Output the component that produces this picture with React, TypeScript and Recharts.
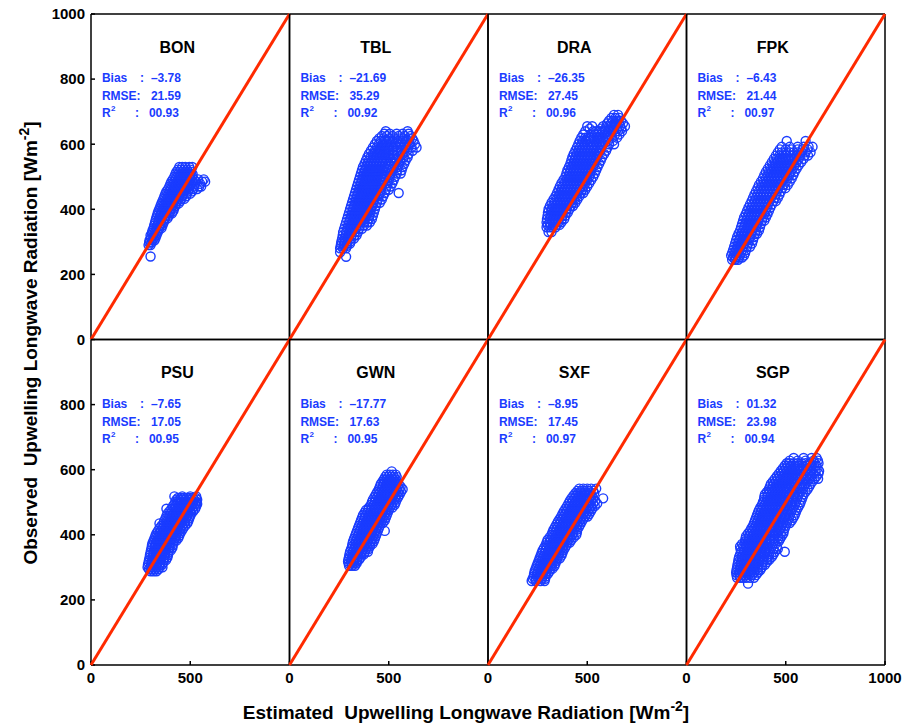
import React from "react";
import { ScatterChart, Scatter, XAxis, YAxis, ReferenceDot } from "recharts";

// each row: [observed, [estimated values read along that level]]
type Row = [number, number[]];

const STATIONS = ["BON", "TBL", "DRA", "FPK", "PSU", "GWN", "SXF", "SGP"];
const BIAS = ["–3.78", "–21.69", "–26.35", "–6.43", "–7.65", "–17.77", "–8.95", "01.32"];
const RMSE = ["21.59", "35.29", "27.45", "21.44", "17.05", "17.63", "17.45", "23.98"];
const R2 = ["00.93", "00.92", "00.96", "00.97", "00.95", "00.95", "00.97", "00.94"];

// 1:1 line
const DIAGONAL = [
  { x: 0, y: 0 },
  { x: 1000, y: 1000 },
];

const BON: Row[] = [
  [255, [300]],
  [290, [290, 300]],
  [298, [293, 305]],
  [305, [295, 310, 320]],
  [312, [302, 315, 325]],
  [320, [300, 315, 330]],
  [328, [307, 320, 335]],
  [335, [310, 325, 340]],
  [342, [315, 330, 345, 355]],
  [350, [318, 333, 348, 360]],
  [358, [322, 337, 352, 365]],
  [365, [325, 340, 355, 370]],
  [372, [328, 343, 358, 373, 385]],
  [380, [332, 347, 362, 378, 392]],
  [388, [336, 351, 366, 381, 396, 408]],
  [395, [340, 355, 370, 385, 400, 415]],
  [402, [345, 360, 375, 390, 405, 418]],
  [410, [350, 365, 380, 395, 410, 425]],
  [418, [355, 370, 385, 400, 415, 430, 442]],
  [425, [360, 375, 390, 405, 420, 435, 450]],
  [432, [365, 380, 395, 410, 425, 440, 455, 470]],
  [440, [370, 385, 400, 415, 430, 445, 460, 480]],
  [448, [375, 390, 405, 420, 435, 450, 465, 482, 500]],
  [455, [380, 395, 410, 425, 440, 455, 470, 490, 510]],
  [462, [388, 403, 418, 433, 448, 463, 478, 495, 515, 535]],
  [470, [395, 410, 425, 440, 455, 470, 485, 500, 520, 545, 555]],
  [478, [400, 415, 430, 445, 460, 475, 490, 505, 525, 550]],
  [485, [405, 420, 435, 450, 465, 480, 495, 510, 530, 560, 575]],
  [492, [412, 427, 442, 457, 472, 487, 502, 518, 540, 568]],
  [500, [420, 435, 450, 465, 480, 495, 510]],
  [508, [425, 440, 455, 470, 485, 500, 512]],
  [515, [430, 445, 460, 475, 490, 505]],
  [522, [438, 453, 468, 483, 500]],
  [530, [445, 460, 475, 495, 510]],
];

const TBL: Row[] = [
  [254, [285]],
  [268, [255]],
  [280, [255, 270, 285]],
  [288, [258, 273, 290]],
  [295, [260, 275, 290, 305]],
  [302, [262, 277, 292, 308]],
  [310, [265, 280, 295, 310, 325]],
  [320, [268, 283, 298, 313, 328, 338]],
  [330, [270, 285, 300, 315, 330, 345]],
  [340, [275, 290, 305, 320, 335, 350, 365]],
  [350, [280, 295, 310, 325, 340, 355, 375, 390]],
  [360, [285, 300, 315, 330, 345, 360, 375, 392, 405]],
  [370, [290, 305, 320, 335, 350, 365, 380, 400, 415]],
  [380, [295, 310, 325, 340, 355, 370, 385, 402, 420]],
  [390, [300, 315, 330, 345, 360, 375, 390, 405, 425]],
  [400, [305, 320, 335, 350, 365, 380, 395, 410, 430]],
  [410, [310, 325, 340, 355, 370, 385, 400, 415, 435]],
  [420, [315, 330, 345, 360, 375, 390, 405, 420, 440, 455]],
  [430, [320, 335, 350, 365, 380, 395, 410, 425, 445, 465]],
  [440, [325, 340, 355, 370, 385, 400, 415, 430, 450, 472]],
  [450, [330, 345, 360, 375, 390, 405, 420, 435, 455, 480, 550]],
  [460, [335, 350, 365, 380, 395, 410, 425, 440, 460, 485, 500]],
  [470, [340, 355, 370, 385, 400, 415, 430, 445, 465, 490, 510]],
  [480, [345, 360, 375, 390, 405, 420, 435, 450, 470, 495, 518]],
  [490, [350, 365, 380, 395, 410, 425, 440, 455, 475, 500, 525]],
  [500, [355, 370, 385, 400, 415, 430, 445, 460, 480, 505, 532]],
  [510, [360, 375, 390, 405, 420, 435, 450, 465, 485, 510, 540, 560]],
  [520, [365, 380, 395, 410, 425, 440, 455, 470, 490, 515, 542, 565]],
  [530, [370, 385, 400, 415, 430, 445, 460, 475, 495, 520, 545, 570]],
  [540, [378, 393, 408, 423, 438, 453, 468, 483, 502, 528, 552, 578]],
  [550, [385, 400, 415, 430, 445, 460, 475, 490, 510, 535, 560, 585]],
  [560, [392, 408, 423, 438, 453, 468, 483, 500, 522, 548, 575, 595]],
  [570, [400, 420, 440, 455, 470, 485, 500, 520, 545, 570, 600]],
  [580, [410, 430, 450, 468, 485, 502, 520, 540, 565, 592, 620]],
  [590, [420, 440, 460, 480, 500, 520, 540, 560, 585, 615, 640]],
  [600, [430, 450, 470, 490, 510, 532, 555, 580, 605, 632]],
  [610, [440, 460, 480, 500, 520, 545, 570, 600, 625]],
  [618, [452, 475, 500, 525, 550, 575, 600, 618]],
  [625, [465, 490, 520, 550, 580, 610]],
  [632, [478, 505, 540, 570, 600]],
  [640, [485, 595]],
];

const DRA: Row[] = [
  [330, [305, 320]],
  [345, [295, 310, 325, 340]],
  [352, [300, 315, 330, 345, 360]],
  [360, [295, 310, 325, 340, 355, 370]],
  [370, [297, 312, 327, 342, 357, 372, 384]],
  [380, [300, 315, 330, 345, 360, 375, 390]],
  [390, [302, 317, 332, 347, 362, 377, 392, 402]],
  [400, [305, 320, 335, 350, 365, 380, 395, 410]],
  [410, [312, 327, 342, 357, 372, 387, 402, 417, 428]],
  [420, [320, 335, 350, 365, 380, 395, 410, 425, 440]],
  [430, [330, 345, 360, 375, 390, 405, 420, 435, 450]],
  [440, [340, 355, 370, 385, 400, 415, 430, 445, 460]],
  [450, [348, 363, 378, 393, 408, 423, 438, 453, 468, 480]],
  [460, [355, 370, 385, 400, 415, 430, 445, 460, 475, 490]],
  [470, [362, 377, 392, 407, 422, 437, 452, 467, 482, 500]],
  [480, [370, 385, 400, 415, 430, 445, 460, 475, 490, 510]],
  [490, [380, 395, 410, 425, 440, 455, 470, 485, 500, 520]],
  [500, [390, 405, 420, 435, 450, 465, 480, 495, 510, 530]],
  [510, [395, 410, 425, 440, 455, 470, 485, 500, 515, 538]],
  [520, [400, 415, 430, 445, 460, 475, 490, 505, 520, 545]],
  [530, [408, 423, 438, 453, 468, 483, 498, 513, 528, 552]],
  [540, [415, 430, 445, 460, 475, 490, 505, 520, 535, 560]],
  [550, [420, 435, 450, 465, 480, 495, 510, 525, 542, 568]],
  [560, [425, 440, 455, 470, 485, 500, 515, 530, 550, 575]],
  [570, [432, 447, 462, 477, 492, 507, 522, 537, 557, 585]],
  [580, [440, 455, 470, 485, 500, 515, 530, 545, 565, 595]],
  [590, [448, 463, 478, 493, 508, 523, 538, 553, 572, 602]],
  [600, [455, 470, 485, 500, 515, 530, 545, 560, 580, 610, 635]],
  [610, [462, 478, 495, 515, 535, 552, 568, 585, 605, 630]],
  [620, [470, 490, 510, 530, 550, 565, 580, 600, 625, 650]],
  [630, [480, 520, 538, 553, 568, 583, 598, 618, 640, 662]],
  [640, [490, 530, 545, 560, 575, 590, 610, 630, 655, 675]],
  [648, [512, 570, 590, 610, 630, 650, 672]],
  [655, [500, 525, 580, 600, 620, 640, 665, 690]],
  [664, [600, 620, 640, 660, 680]],
  [672, [610, 630, 650, 670]],
  [681, [622, 642, 662]],
  [690, [635, 655]],
];

const FPK: Row[] = [
  [245, [230, 245, 260]],
  [252, [235, 250, 265, 280]],
  [258, [225, 240, 255, 270, 290]],
  [266, [230, 245, 260, 275, 295]],
  [275, [235, 250, 265, 280, 300]],
  [285, [240, 255, 270, 285, 305, 320]],
  [295, [245, 260, 275, 290, 310, 330]],
  [305, [250, 265, 280, 295, 315, 335]],
  [315, [255, 270, 285, 300, 320, 340]],
  [325, [262, 277, 292, 307, 325, 345, 355]],
  [335, [270, 285, 300, 315, 330, 350, 365]],
  [345, [275, 290, 305, 320, 335, 352, 370]],
  [355, [280, 295, 310, 325, 340, 355, 375]],
  [365, [285, 300, 315, 330, 345, 360, 380, 392]],
  [375, [290, 305, 320, 335, 350, 365, 385, 400]],
  [385, [298, 313, 328, 343, 358, 373, 392, 408]],
  [395, [305, 320, 335, 350, 365, 380, 400, 415]],
  [405, [312, 327, 342, 357, 372, 388, 405, 422]],
  [415, [320, 335, 350, 365, 380, 395, 410, 430]],
  [425, [328, 343, 358, 373, 388, 403, 418, 438, 450]],
  [435, [335, 350, 365, 380, 395, 410, 425, 445, 460]],
  [445, [342, 357, 372, 387, 402, 417, 432, 450, 468]],
  [455, [350, 365, 380, 395, 410, 425, 440, 455, 475]],
  [465, [358, 373, 388, 403, 418, 433, 448, 463, 482, 498]],
  [475, [365, 380, 395, 410, 425, 440, 455, 470, 490, 510]],
  [485, [375, 390, 405, 420, 435, 450, 465, 480, 500, 520]],
  [495, [385, 400, 415, 430, 445, 460, 475, 490, 510, 530]],
  [505, [392, 407, 422, 437, 452, 467, 482, 497, 518, 538]],
  [515, [400, 415, 430, 445, 460, 475, 490, 505, 525, 545]],
  [525, [410, 425, 440, 455, 470, 485, 500, 515, 535, 555]],
  [535, [420, 435, 450, 465, 480, 495, 510, 525, 545, 565]],
  [545, [430, 445, 460, 475, 490, 505, 520, 535, 555, 578]],
  [555, [440, 455, 470, 485, 500, 515, 530, 545, 565, 590]],
  [565, [450, 468, 485, 502, 520, 538, 555, 572, 595, 612]],
  [575, [460, 480, 500, 520, 540, 560, 580, 600, 625]],
  [584, [470, 500, 530, 560, 585, 610]],
  [592, [480, 520, 560, 590, 615, 635]],
  [610, [505, 600]],
];

const PSU: Row[] = [
  [288, [300, 315, 330]],
  [294, [292, 307, 322, 340]],
  [300, [285, 300, 315, 330, 345, 360]],
  [308, [287, 302, 317, 332, 347, 358]],
  [315, [290, 305, 320, 335, 350, 365]],
  [322, [292, 307, 322, 337, 352, 367, 378]],
  [330, [295, 310, 325, 340, 355, 370, 385]],
  [338, [297, 312, 327, 342, 357, 372, 388]],
  [345, [300, 315, 330, 345, 360, 375, 390]],
  [352, [302, 317, 332, 347, 362, 377, 392, 402]],
  [360, [305, 320, 335, 350, 365, 380, 395, 410]],
  [368, [307, 322, 337, 352, 367, 382, 397, 412]],
  [375, [310, 325, 340, 355, 370, 385, 400, 415]],
  [382, [315, 330, 345, 360, 375, 390, 405, 420, 430]],
  [390, [320, 335, 350, 365, 380, 395, 410, 425, 440]],
  [398, [325, 340, 355, 370, 385, 400, 415, 430, 445]],
  [405, [330, 345, 360, 375, 390, 405, 420, 435, 450]],
  [412, [337, 352, 367, 382, 397, 412, 427, 442, 457]],
  [420, [345, 360, 375, 390, 405, 420, 435, 450, 465]],
  [428, [355, 370, 385, 400, 415, 430, 445, 460, 475]],
  [435, [345, 365, 380, 395, 410, 425, 440, 455, 470, 485]],
  [442, [368, 383, 398, 413, 428, 443, 458, 473, 490]],
  [450, [375, 390, 405, 420, 435, 450, 465, 480, 495]],
  [458, [380, 395, 410, 425, 440, 455, 470, 485, 500]],
  [465, [385, 400, 415, 430, 445, 460, 475, 490, 505]],
  [472, [395, 410, 425, 440, 455, 470, 485, 500, 515]],
  [480, [380, 405, 420, 435, 450, 465, 480, 495, 510, 525]],
  [488, [412, 427, 442, 457, 472, 487, 502, 517, 530]],
  [495, [420, 435, 450, 465, 480, 495, 510, 525, 535]],
  [502, [425, 440, 455, 470, 485, 500, 515, 530]],
  [508, [430, 445, 460, 475, 490, 505, 520, 535]],
  [513, [438, 453, 468, 483, 498, 513, 528]],
  [518, [420, 460, 500, 530]],
];

const GWN: Row[] = [
  [305, [300, 315, 330]],
  [312, [298, 312, 327, 338]],
  [318, [295, 310, 325, 340]],
  [325, [297, 312, 327, 342, 352]],
  [332, [300, 315, 330, 345, 360]],
  [340, [302, 317, 332, 347, 362, 375]],
  [348, [305, 320, 335, 350, 365, 380, 395]],
  [356, [310, 325, 340, 355, 370, 385, 398]],
  [364, [315, 330, 345, 360, 375, 390, 405]],
  [372, [317, 332, 347, 362, 377, 392, 407, 418]],
  [380, [320, 335, 350, 365, 380, 395, 410, 425]],
  [388, [325, 340, 355, 370, 385, 400, 415, 430]],
  [396, [330, 345, 360, 375, 390, 405, 420, 435]],
  [404, [335, 350, 365, 380, 395, 410, 425, 440]],
  [412, [340, 355, 370, 385, 400, 415, 430, 445, 480]],
  [420, [345, 360, 375, 390, 405, 420, 435, 450]],
  [428, [350, 365, 380, 395, 410, 425, 440, 455]],
  [436, [355, 370, 385, 400, 415, 430, 445, 460, 470]],
  [444, [360, 375, 390, 405, 420, 435, 450, 465, 480]],
  [452, [365, 380, 395, 410, 425, 440, 455, 470, 485]],
  [460, [370, 385, 400, 415, 430, 445, 460, 475, 490]],
  [468, [378, 393, 408, 423, 438, 453, 468, 483, 495]],
  [476, [385, 395, 410, 425, 440, 455, 470, 485, 500]],
  [484, [400, 415, 430, 445, 460, 475, 490, 505, 518]],
  [492, [410, 425, 440, 455, 470, 485, 500, 515, 530]],
  [500, [415, 430, 445, 460, 475, 490, 505, 520, 535]],
  [508, [420, 435, 450, 465, 480, 495, 510, 525, 540]],
  [516, [428, 443, 458, 473, 488, 503, 518, 533, 548]],
  [524, [435, 450, 465, 480, 495, 510, 525, 540, 555]],
  [532, [442, 457, 472, 487, 502, 517, 532, 547, 562]],
  [540, [450, 465, 480, 495, 510, 525, 540, 555, 570]],
  [548, [455, 470, 485, 500, 515, 530, 545, 560]],
  [556, [460, 475, 490, 505, 520, 535, 550]],
  [563, [468, 483, 498, 513, 528, 543]],
  [570, [475, 490, 505, 520, 535]],
  [578, [482, 497, 512, 527, 540]],
  [585, [490, 505, 520, 535]],
  [595, [515]],
];

const SXF: Row[] = [
  [258, [220, 240, 265, 285]],
  [265, [225, 240, 255, 272, 288]],
  [272, [230, 245, 260, 275, 290]],
  [280, [232, 247, 262, 277, 292, 302]],
  [288, [235, 250, 265, 280, 295, 310]],
  [296, [240, 255, 270, 285, 300, 315, 325]],
  [304, [245, 260, 275, 290, 305, 320, 335]],
  [312, [250, 265, 280, 295, 310, 325, 340]],
  [320, [255, 270, 285, 300, 315, 330, 345]],
  [328, [260, 275, 290, 305, 320, 335, 350, 362]],
  [336, [265, 280, 295, 310, 325, 340, 355, 370]],
  [344, [270, 285, 300, 315, 330, 345, 360, 375]],
  [352, [275, 290, 305, 320, 335, 350, 365, 380]],
  [360, [282, 297, 312, 327, 342, 357, 372, 388]],
  [368, [290, 305, 320, 335, 350, 365, 380, 395]],
  [376, [295, 310, 325, 340, 355, 370, 385, 400, 412]],
  [384, [300, 315, 330, 345, 360, 375, 390, 405, 420]],
  [392, [310, 325, 340, 355, 370, 385, 400, 415, 432]],
  [400, [320, 335, 350, 365, 380, 395, 410, 425, 445]],
  [408, [325, 340, 355, 370, 385, 400, 415, 430, 448]],
  [416, [330, 345, 360, 375, 390, 405, 420, 435, 450]],
  [424, [338, 353, 368, 383, 398, 413, 428, 443, 458]],
  [432, [345, 360, 375, 390, 405, 420, 435, 450, 465]],
  [440, [352, 367, 382, 397, 412, 427, 442, 457, 472]],
  [448, [360, 375, 390, 405, 420, 435, 450, 465, 480]],
  [456, [368, 383, 398, 413, 428, 443, 458, 473, 488, 502]],
  [464, [375, 390, 405, 420, 435, 450, 465, 480, 495, 510]],
  [472, [382, 397, 412, 427, 442, 457, 472, 487, 502, 518]],
  [480, [390, 405, 420, 435, 450, 465, 480, 495, 510, 525]],
  [488, [398, 413, 428, 443, 458, 473, 488, 503, 520, 538]],
  [496, [405, 420, 435, 450, 465, 480, 495, 510, 530, 550]],
  [504, [412, 427, 442, 457, 472, 487, 502, 520, 540]],
  [512, [420, 435, 450, 465, 480, 495, 510, 530, 580]],
  [520, [430, 445, 460, 475, 490, 505, 522]],
  [528, [440, 455, 470, 485, 500, 515, 535]],
  [535, [450, 468, 488, 508, 530]],
  [542, [460, 480, 500, 520, 545]],
];

const SGP: Row[] = [
  [250, [310]],
  [268, [255, 270, 285, 300, 320, 340]],
  [276, [252, 267, 282, 297, 312, 330, 350]],
  [284, [250, 265, 280, 295, 310, 325, 340, 360]],
  [292, [252, 267, 282, 297, 312, 327, 342, 360, 372]],
  [300, [255, 270, 285, 300, 315, 330, 345, 360, 380]],
  [308, [257, 272, 287, 302, 317, 332, 347, 362, 382, 395]],
  [316, [260, 275, 290, 305, 320, 335, 350, 365, 385, 405]],
  [324, [262, 277, 292, 307, 322, 337, 352, 367, 387, 408, 418]],
  [332, [265, 280, 295, 310, 325, 340, 355, 370, 390, 410, 430]],
  [340, [270, 285, 300, 315, 330, 345, 360, 375, 395, 415, 438]],
  [348, [275, 290, 305, 320, 335, 350, 365, 380, 400, 420, 445, 495]],
  [356, [272, 287, 302, 317, 332, 347, 362, 377, 395, 415, 438, 460]],
  [364, [270, 285, 300, 315, 330, 345, 360, 375, 390, 410, 430, 455]],
  [372, [280, 297, 312, 327, 342, 357, 372, 387, 405, 425, 448]],
  [380, [295, 310, 325, 340, 355, 370, 385, 400, 420, 440, 465]],
  [388, [297, 312, 327, 342, 357, 372, 387, 402, 420, 440, 462, 472]],
  [396, [300, 315, 330, 345, 360, 375, 390, 405, 420, 440, 460, 480]],
  [404, [310, 325, 340, 355, 370, 385, 400, 415, 432, 452, 475, 488]],
  [412, [320, 335, 350, 365, 380, 395, 410, 425, 445, 465, 490]],
  [420, [327, 342, 357, 372, 387, 402, 417, 432, 452, 472, 495]],
  [428, [335, 350, 365, 380, 395, 410, 425, 440, 460, 480, 500]],
  [436, [340, 355, 370, 385, 400, 415, 430, 445, 465, 485, 505, 520]],
  [444, [345, 360, 375, 390, 405, 420, 435, 450, 470, 490, 510, 530]],
  [452, [350, 365, 380, 395, 410, 425, 440, 455, 475, 495, 515, 538]],
  [460, [355, 370, 385, 400, 415, 430, 445, 460, 480, 500, 520, 545]],
  [468, [360, 375, 390, 405, 420, 435, 450, 465, 485, 505, 525, 550]],
  [476, [365, 380, 395, 410, 425, 440, 455, 470, 490, 510, 530, 555]],
  [484, [372, 387, 402, 417, 432, 447, 462, 477, 497, 517, 538, 562]],
  [492, [380, 395, 410, 425, 440, 455, 470, 485, 505, 525, 545, 570]],
  [500, [385, 400, 415, 430, 445, 460, 475, 490, 510, 530, 550, 575]],
  [508, [390, 405, 420, 435, 450, 465, 480, 495, 515, 535, 555, 580]],
  [516, [392, 407, 422, 437, 452, 467, 482, 497, 517, 538, 560, 585]],
  [524, [395, 410, 425, 440, 455, 470, 485, 500, 520, 540, 565, 590]],
  [532, [405, 420, 435, 450, 465, 480, 495, 510, 530, 550, 575, 600]],
  [540, [415, 430, 445, 460, 475, 490, 505, 520, 540, 560, 585, 610]],
  [548, [420, 435, 450, 465, 480, 495, 510, 525, 545, 568, 592, 618]],
  [556, [425, 440, 455, 470, 485, 500, 515, 530, 550, 575, 600, 625]],
  [564, [435, 450, 465, 480, 495, 510, 525, 540, 560, 585, 610, 635]],
  [572, [445, 460, 475, 490, 505, 520, 535, 550, 570, 595, 620, 645, 663]],
  [580, [455, 470, 485, 500, 515, 530, 545, 560, 580, 605, 630, 655]],
  [588, [465, 480, 495, 510, 525, 540, 555, 570, 590, 615, 640, 665]],
  [596, [475, 490, 505, 520, 535, 550, 565, 580, 600, 625, 650, 668]],
  [604, [485, 500, 515, 530, 545, 560, 575, 590, 610, 635, 660]],
  [612, [495, 510, 528, 548, 568, 588, 608, 630, 655]],
  [620, [505, 520, 540, 560, 580, 600, 620, 645, 665]],
  [628, [520, 560, 600, 640, 662]],
  [636, [540, 590, 630, 655]],
];

const CLOUDS = [BON, TBL, DRA, FPK, PSU, GWN, SXF, SGP];

const X_TICKS = [0, 500, 1000];
const Y_TICKS = [0, 200, 400, 600, 800, 1000];

const W = 909;
const H = 727;
const LEFT = 91;
const TOP = 14;
const PW = 198.5;
const PH = 325.5;
const BLUE = "#1a3cff";
const RED = "#ff2a00";
const FONT = "'Liberation Sans', Arial, Helvetica, sans-serif";

const tickStyle = { fill: "#000", fontSize: 15, fontWeight: 700 };

function toPoints(rows: Row[]) {
  return rows.flatMap(([y, xs]) => xs.map((x) => ({ x, y })));
}

const Ring = (p: any) => (
  <circle cx={p.cx} cy={p.cy} r={4.5} fill="none" stroke={BLUE} strokeWidth={1.4} />
);
const NoMark = () => <g />;

function titleLabel(i: number) {
  return ({ viewBox }: any) => (
    <text x={viewBox.x} y={viewBox.y + 6} textAnchor="middle" fill="#000" fontSize={16} fontWeight={700}>
      {STATIONS[i]}
    </text>
  );
}

function statsLabel(i: number) {
  return ({ viewBox }: any) => {
    const x = viewBox.x;
    const y = viewBox.y;
    return (
      <text fill={BLUE} fontSize={12} fontWeight={700}>
        <tspan x={x} y={y + 3}>Bias</tspan>
        <tspan x={x + 38} y={y + 3}>:</tspan>
        <tspan x={x + 49} y={y + 3}>{BIAS[i]}</tspan>
        <tspan x={x} y={y + 21}>RMSE:</tspan>
        <tspan x={x + 49} y={y + 21}>{RMSE[i]}</tspan>
        <tspan x={x} y={y + 38}>R</tspan>
        <tspan x={x + 9} y={y + 32} fontSize={8}>2</tspan>
        <tspan x={x + 33} y={y + 38}>:</tspan>
        <tspan x={x + 47} y={y + 38}>{R2[i]}</tspan>
      </text>
    );
  };
}

function Panel({ i }: { i: number }) {
  const col = i % 4;
  const row = Math.floor(i / 4);
  const left = LEFT + col * PW;
  const top = TOP + row * PH;
  const xTicks = row === 1 && col < 3 ? [0, 500] : X_TICKS;
  const yTicks = col === 0 && row === 1 ? Y_TICKS.slice(0, 5) : Y_TICKS;

  // axes get a 1px band (a 0px axis is not drawn), taken out of the margins
  return (
    <div style={{ position: "absolute", left: 0, top: 0 }}>
      <ScatterChart
        width={W}
        height={H}
        margin={{ left: left - 1, top: top - 1, right: W - left - PW - 1, bottom: H - top - PH - 1 }}
      >
        <XAxis
          xAxisId="b"
          type="number"
          dataKey="x"
          domain={[0, 1000]}
          ticks={xTicks}
          interval={0}
          height={1}
          tickSize={-4}
          tickMargin={11}
          tick={row === 1 ? tickStyle : false}
          stroke="#000"
          strokeWidth={1.5}
        />
        <XAxis
          xAxisId="t"
          orientation="top"
          type="number"
          domain={[0, 1000]}
          ticks={X_TICKS}
          interval={0}
          height={1}
          tickSize={-4}
          tick={false}
          stroke="#000"
          strokeWidth={1.5}
        />
        <YAxis
          yAxisId="l"
          type="number"
          dataKey="y"
          domain={[0, 1000]}
          ticks={yTicks}
          interval={0}
          width={1}
          tickSize={-4}
          tickMargin={10}
          tick={col === 0 ? tickStyle : false}
          stroke="#000"
          strokeWidth={1.5}
        />
        <YAxis
          yAxisId="r"
          orientation="right"
          type="number"
          domain={[0, 1000]}
          ticks={Y_TICKS}
          interval={0}
          width={1}
          tickSize={-4}
          tick={false}
          stroke="#000"
          strokeWidth={1.5}
        />
        <Scatter
          data={toPoints(CLOUDS[i])}
          xAxisId="b"
          yAxisId="l"
          shape={Ring}
          isAnimationActive={false}
        />
        <Scatter
          data={DIAGONAL}
          xAxisId="b"
          yAxisId="l"
          shape={NoMark}
          line={{ stroke: RED, strokeWidth: 3 }}
          isAnimationActive={false}
        />
        <ReferenceDot xAxisId="b" yAxisId="l" x={435} y={900} r={0} fill="none" stroke="none" label={titleLabel(i)} />
        <ReferenceDot xAxisId="b" yAxisId="l" x={55} y={800} r={0} fill="none" stroke="none" label={statsLabel(i)} />
      </ScatterChart>
    </div>
  );
}

export default function App() {
  return (
    <div style={{ position: "absolute", left: 0, top: 0, width: W, height: H, background: "#fff", fontFamily: FONT }}>
      {STATIONS.map((_, i) => (
        <Panel key={i} i={i} />
      ))}
      <svg width={W} height={H} style={{ position: "absolute", left: 0, top: 0, pointerEvents: "none" }}>
        <text
          x={466}
          y={719}
          textAnchor="middle"
          fontSize={19}
          fontWeight={700}
          fill="#000"
          style={{ whiteSpace: "pre" }}
        >
          Estimated  Upwelling Longwave Radiation [Wm<tspan dy={-8} fontSize={14}>-2</tspan><tspan dy={8}>]</tspan>
        </text>
        <text
          transform="translate(37, 343) rotate(-90)"
          x={0}
          y={0}
          textAnchor="middle"
          fontSize={19}
          fontWeight={700}
          fill="#000"
          style={{ whiteSpace: "pre" }}
        >
          Observed  Upwelling Longwave Radiation [Wm<tspan dy={-8} fontSize={14}>-2</tspan><tspan dy={8}>]</tspan>
        </text>
      </svg>
    </div>
  );
}
